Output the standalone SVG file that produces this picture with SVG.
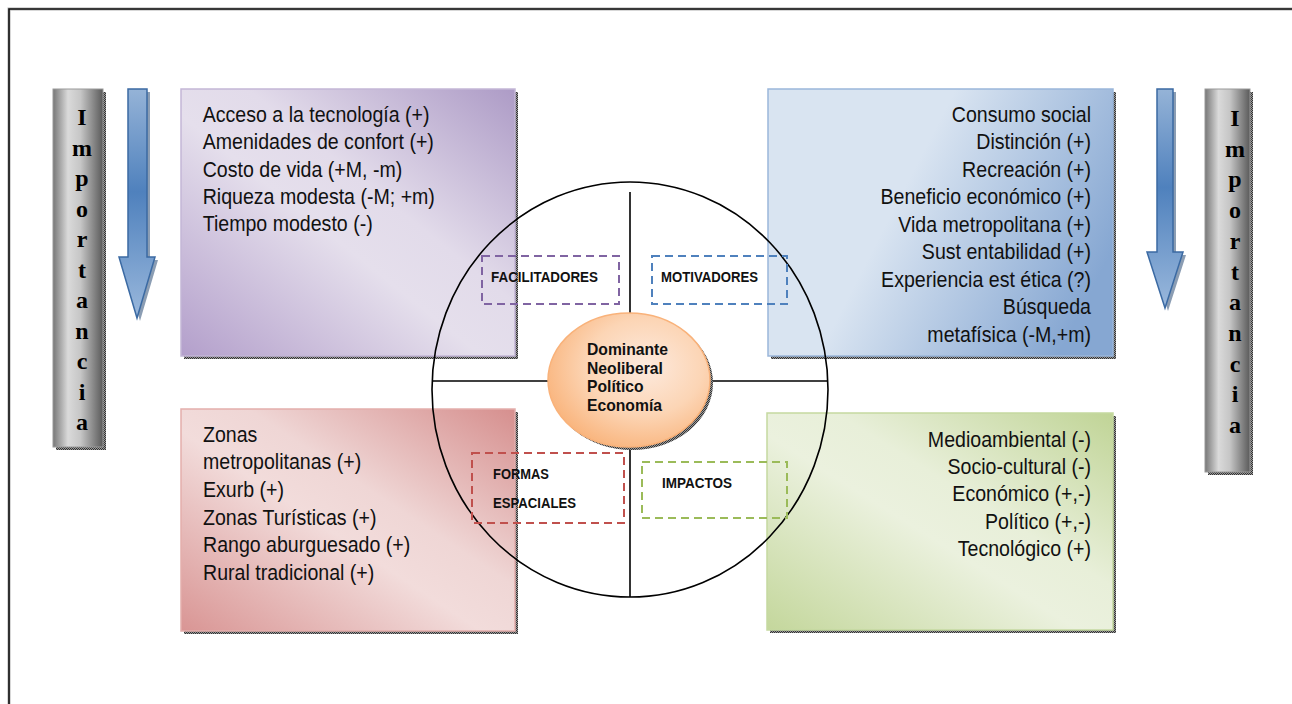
<svg xmlns="http://www.w3.org/2000/svg" width="1292" height="704" viewBox="0 0 1292 704">
<defs>
<pattern id="dots" width="2" height="2" patternUnits="userSpaceOnUse">
<rect width="2" height="2" fill="#9a9a9a"/>
<rect width="1" height="1" fill="#333"/>
<rect x="1" y="1" width="1" height="1" fill="#333"/>
</pattern>
<linearGradient id="gPurple" x1="0" y1="1" x2="1" y2="0">
<stop offset="0" stop-color="#b39fcb"/>
<stop offset="0.45" stop-color="#e5dfec"/>
<stop offset="0.6" stop-color="#e2dbea"/>
<stop offset="1" stop-color="#ad9bc6"/>
</linearGradient>
<linearGradient id="gBlue" x1="0" y1="0.2" x2="1" y2="0.6">
<stop offset="0" stop-color="#d9e4f1"/>
<stop offset="0.4" stop-color="#d9e4f1"/>
<stop offset="1" stop-color="#86a7d2"/>
</linearGradient>
<linearGradient id="gRed" x1="0" y1="1" x2="1" y2="0">
<stop offset="0" stop-color="#d99594"/>
<stop offset="0.45" stop-color="#f2dcdb"/>
<stop offset="0.6" stop-color="#efd6d5"/>
<stop offset="1" stop-color="#d68f8e"/>
</linearGradient>
<linearGradient id="gGreen" x1="0" y1="1" x2="1" y2="0">
<stop offset="0" stop-color="#c4d79c"/>
<stop offset="0.45" stop-color="#ebf1de"/>
<stop offset="0.6" stop-color="#e8efd9"/>
<stop offset="1" stop-color="#c0d496"/>
</linearGradient>
<linearGradient id="gGray" x1="0" y1="0" x2="1" y2="0">
<stop offset="0" stop-color="#777"/>
<stop offset="0.3" stop-color="#dadada"/>
<stop offset="0.55" stop-color="#c6c6c6"/>
<stop offset="1" stop-color="#5a5a5a"/>
</linearGradient>
<linearGradient id="gArrow" x1="0" y1="0" x2="0" y2="1">
<stop offset="0" stop-color="#95b3d7"/>
<stop offset="0.45" stop-color="#4f81bd"/>
<stop offset="1" stop-color="#9ab8dc"/>
</linearGradient>
<radialGradient id="gCore" cx="0.6" cy="0.4" r="0.65">
<stop offset="0" stop-color="#fdeade"/>
<stop offset="0.55" stop-color="#fcd5b5"/>
<stop offset="1" stop-color="#f9b47c"/>
</radialGradient>
<style>
.body{font-family:"Liberation Sans",Arial,sans-serif;font-size:22px;fill:#111;}
.end{text-anchor:end;}
.lab{font-family:"Liberation Sans",Arial,sans-serif;font-size:14.5px;font-weight:bold;fill:#111;}
.core{font-family:"Liberation Sans",Arial,sans-serif;font-size:15.7px;font-weight:bold;fill:#111;}
.imp{font-family:"Liberation Serif","Times New Roman",serif;font-size:24px;font-weight:bold;fill:#000;text-anchor:middle;}
.dash{fill:none;stroke-width:2;stroke-dasharray:8 5;}
.line{stroke:#000;stroke-width:1.6;fill:none;}
.arrow{fill:url(#gArrow);stroke:#3b6aa3;stroke-width:1.5;}
.arrowsh{fill:#2c4d75;opacity:0.55;}
</style>
</defs>
<rect width="1292" height="704" fill="#fff"/>
<path d="M9,704 V9 H1292" fill="none" stroke="#b0b0b0" stroke-width="3"/>
<path d="M9,704 V9 H1292" fill="none" stroke="#111" stroke-width="1.6"/>

<g id="facilitadores-box">
<rect x="184" y="92" width="334" height="267" fill="url(#dots)"/>
<rect x="181" y="89" width="334" height="267" fill="url(#gPurple)" stroke="#c3b6d6" stroke-width="1.5"/>
<g transform="translate(202.7,0) scale(0.89,1)">
<text class="body" x="0" y="122">Acceso a la tecnología (+)</text>
<text class="body" x="0" y="149.3">Amenidades de confort (+)</text>
<text class="body" x="0" y="176.6">Costo de vida (+M, -m)</text>
<text class="body" x="0" y="203.9">Riqueza modesta (-M; +m)</text>
<text class="body" x="0" y="231.2">Tiempo modesto (-)</text>
</g>
</g>

<g id="motivadores-box">
<rect x="771" y="92" width="345" height="267" fill="url(#dots)"/>
<rect x="768" y="89" width="345" height="267" fill="url(#gBlue)" stroke="#9ab6da" stroke-width="1.5"/>
<g transform="translate(1091,0) scale(0.89,1)">
<text class="body end" x="0" y="121.7">Consumo social</text>
<text class="body end" x="0" y="149.2">Distinción (+)</text>
<text class="body end" x="0" y="176.7">Recreación (+)</text>
<text class="body end" x="0" y="204.2">Beneficio económico (+)</text>
<text class="body end" x="0" y="231.7">Vida metropolitana (+)</text>
<text class="body end" x="0" y="259.2">Sust entabilidad (+)</text>
<text class="body end" x="0" y="286.7">Experiencia est ética (?)</text>
<text class="body end" x="0" y="314.2">Búsqueda</text>
<text class="body end" x="0" y="341.7">metafísica (-M,+m)</text>
</g>
</g>

<g id="formas-box">
<rect x="184" y="412" width="334" height="222" fill="url(#dots)"/>
<rect x="181" y="409" width="334" height="222" fill="url(#gRed)" stroke="#e3aeac" stroke-width="1.5"/>
<g transform="translate(203,0) scale(0.89,1)">
<text class="body" x="0" y="441.7">Zonas</text>
<text class="body" x="0" y="469.4">metropolitanas (+)</text>
<text class="body" x="0" y="497.1">Exurb (+)</text>
<text class="body" x="0" y="524.8">Zonas Turísticas (+)</text>
<text class="body" x="0" y="552.5">Rango aburguesado (+)</text>
<text class="body" x="0" y="580.2">Rural tradicional (+)</text>
</g>
</g>

<g id="impactos-box">
<rect x="770" y="416" width="346" height="217" fill="url(#dots)"/>
<rect x="767" y="413" width="346" height="217" fill="url(#gGreen)" stroke="#c5d9a0" stroke-width="1.5"/>
<g transform="translate(1091,0) scale(0.89,1)">
<text class="body end" x="0" y="446.7">Medioambiental (-)</text>
<text class="body end" x="0" y="474.1">Socio-cultural (-)</text>
<text class="body end" x="0" y="501.5">Económico (+,-)</text>
<text class="body end" x="0" y="528.9">Político (+,-)</text>
<text class="body end" x="0" y="556.3">Tecnológico (+)</text>
</g>
</g>

<g id="importancia-left">
<rect x="56" y="92" width="50" height="358" fill="url(#dots)"/>
<rect x="53" y="89" width="50" height="358" fill="url(#gGray)" stroke="#9a9a9a" stroke-width="1"/>
<text class="imp" x="82" y="125">I</text>
<text class="imp" x="82" y="155.5">m</text>
<text class="imp" x="82" y="186">p</text>
<text class="imp" x="82" y="216.5">o</text>
<text class="imp" x="82" y="247">r</text>
<text class="imp" x="82" y="277.5">t</text>
<text class="imp" x="82" y="308">a</text>
<text class="imp" x="82" y="338.5">n</text>
<text class="imp" x="82" y="369">c</text>
<text class="imp" x="82" y="399.5">i</text>
<text class="imp" x="82" y="430">a</text>
</g>

<g id="importancia-right">
<rect x="1208" y="92" width="45" height="383" fill="url(#dots)"/>
<rect x="1205" y="89" width="45" height="383" fill="url(#gGray)" stroke="#9a9a9a" stroke-width="1"/>
<text class="imp" x="1235" y="126">I</text>
<text class="imp" x="1235" y="156.7">m</text>
<text class="imp" x="1235" y="187.4">p</text>
<text class="imp" x="1235" y="218.1">o</text>
<text class="imp" x="1235" y="248.8">r</text>
<text class="imp" x="1235" y="279.5">t</text>
<text class="imp" x="1235" y="310.2">a</text>
<text class="imp" x="1235" y="340.9">n</text>
<text class="imp" x="1235" y="371.6">c</text>
<text class="imp" x="1235" y="402.3">i</text>
<text class="imp" x="1235" y="433">a</text>
</g>

<g id="arrow-left">
<polygon class="arrowsh" points="131,92 150,92 150,260 158,260 140,321 122,260 131,260"/>
<polygon class="arrow" points="128,89 147,89 147,257 155,257 137,318 119,257 128,257"/>
</g>
<g id="arrow-right">
<polygon class="arrowsh" points="1160,92 1176,92 1176,255 1186,255 1168,311 1150,255 1160,255"/>
<polygon class="arrow" points="1157,89 1173,89 1173,252 1183,252 1165,308 1147,252 1157,252"/>
</g>

<g id="outer-circle">
<ellipse cx="630" cy="389.5" rx="198" ry="207.5" class="line"/>
</g>

<g id="connectors">
<line class="line" x1="630" y1="192" x2="630" y2="313"/>
<line class="line" x1="630" y1="448" x2="630" y2="597"/>
<line class="line" x1="432" y1="381" x2="548" y2="381"/>
<line class="line" x1="710" y1="381" x2="828" y2="381"/>
</g>

<g id="core">
<ellipse cx="632" cy="383" rx="81" ry="67" fill="url(#dots)"/>
<ellipse cx="629" cy="380" rx="81" ry="67" fill="url(#gCore)" stroke="#f9b27a" stroke-width="1.5"/>
<text class="core" x="587" y="355">Dominante</text>
<text class="core" x="587" y="373.7">Neoliberal</text>
<text class="core" x="587" y="392.4">Político</text>
<text class="core" x="587" y="411.1">Economía</text>
</g>

<g id="label-facilitadores">
<rect class="dash" x="482" y="256" width="137" height="48" stroke="#8064a2"/>
<text class="lab" x="491" y="282" textLength="107" lengthAdjust="spacingAndGlyphs">FACILITADORES</text>
</g>
<g id="label-motivadores">
<rect class="dash" x="652" y="256" width="135" height="48" stroke="#4f81bd"/>
<text class="lab" x="661" y="282" textLength="97" lengthAdjust="spacingAndGlyphs">MOTIVADORES</text>
</g>
<g id="label-formas">
<rect class="dash" x="472" y="453" width="152" height="70" stroke="#c0504d"/>
<text class="lab" x="493" y="479" textLength="56" lengthAdjust="spacingAndGlyphs">FORMAS</text>
<text class="lab" x="493" y="508" textLength="83" lengthAdjust="spacingAndGlyphs">ESPACIALES</text>
</g>
<g id="label-impactos">
<rect class="dash" x="642" y="462" width="145" height="56" stroke="#9bbb59"/>
<text class="lab" x="662" y="488" textLength="70" lengthAdjust="spacingAndGlyphs">IMPACTOS</text>
</g>
</svg>
